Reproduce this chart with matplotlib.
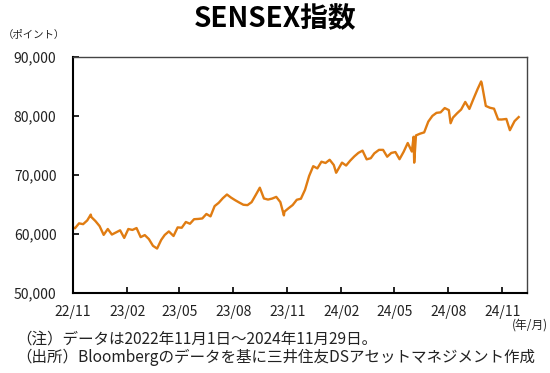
import numpy as np
import pandas as pd
import matplotlib
matplotlib.use("Agg")
import matplotlib.pyplot as plt
import matplotlib.dates as mdates
from matplotlib.ticker import FuncFormatter

plt.rcParams['font.family'] = ['Noto Sans CJK JP', 'DejaVu Sans']

# SENSEX closes (weekly, plus a few notable days)
dates = [
    "2022-11-01", "2022-11-04", "2022-11-11", "2022-11-18", "2022-11-25", "2022-12-01",
    "2022-12-02", "2022-12-09", "2022-12-16", "2022-12-23", "2022-12-30",
    "2023-01-06", "2023-01-13", "2023-01-20", "2023-01-27", "2023-02-03", "2023-02-10",
    "2023-02-17", "2023-02-24", "2023-03-03", "2023-03-10", "2023-03-17", "2023-03-24",
    "2023-03-31", "2023-04-06", "2023-04-13", "2023-04-21", "2023-04-28", "2023-05-05",
    "2023-05-12", "2023-05-19", "2023-05-26", "2023-06-02", "2023-06-09", "2023-06-16",
    "2023-06-23", "2023-06-30", "2023-07-07", "2023-07-14", "2023-07-21", "2023-07-28",
    "2023-08-04", "2023-08-11", "2023-08-18", "2023-08-25", "2023-09-01", "2023-09-08",
    "2023-09-15", "2023-09-22", "2023-09-29", "2023-10-06", "2023-10-13", "2023-10-20",
    "2023-10-26", "2023-10-27", "2023-11-03", "2023-11-10", "2023-11-17", "2023-11-24",
    "2023-12-01", "2023-12-08", "2023-12-15", "2023-12-22", "2023-12-29",
    "2024-01-05", "2024-01-12", "2024-01-19", "2024-01-23", "2024-01-25", "2024-02-02",
    "2024-02-09", "2024-02-16", "2024-02-23", "2024-03-01", "2024-03-08", "2024-03-15",
    "2024-03-22", "2024-03-28", "2024-04-05", "2024-04-12", "2024-04-19", "2024-04-26",
    "2024-05-03", "2024-05-10", "2024-05-17", "2024-05-24", "2024-05-31", "2024-06-03",
    "2024-06-04", "2024-06-07", "2024-06-14", "2024-06-21", "2024-06-28", "2024-07-05",
    "2024-07-12", "2024-07-19", "2024-07-26", "2024-08-02", "2024-08-05", "2024-08-09",
    "2024-08-16", "2024-08-23", "2024-08-30", "2024-09-06", "2024-09-13", "2024-09-20",
    "2024-09-26", "2024-09-27", "2024-10-04", "2024-10-11", "2024-10-18", "2024-10-25",
    "2024-10-31", "2024-11-08", "2024-11-14", "2024-11-22", "2024-11-29",
]
sensex = [
    61121, 60950, 61795, 61663, 62294, 63284,
    62869, 62182, 61338, 59845, 60841,
    59900, 60261, 60621, 59331, 60842, 60683,
    61003, 59464, 59809, 59135, 57990, 57527,
    58991, 59833, 60431, 59655, 61112, 61055,
    62028, 61730, 62502, 62547, 62626, 63385,
    62979, 64719, 65280, 66061, 66684, 66160,
    65721, 65323, 64949, 64886, 65387, 66598,
    67839, 66009, 65828, 65996, 66283, 65398,
    63148, 63783, 64364, 64904, 65795, 65970,
    67481, 69826, 71484, 71107, 72240,
    72026, 72568, 71683, 70370, 70700, 72086,
    71595, 72427, 73142, 73745, 74119, 72643,
    72832, 73651, 74248, 74245, 73088, 73730,
    73878, 72664, 73917, 75410, 73961, 76469,
    72079, 76693, 76993, 77210, 79032, 80004,
    80519, 80605, 81333, 80982, 78759, 79706,
    80437, 81086, 82366, 81184, 82891, 84544,
    85836, 85572, 81688, 81381, 81225, 79402,
    79389, 79486, 77580, 79117, 79803,
]
tick_months = ["2022-11", "2023-02", "2023-05", "2023-08", "2023-11",
               "2024-02", "2024-05", "2024-08", "2024-11"]
y_ticks = [50000, 60000, 70000, 80000, 90000]

x = pd.to_datetime(dates)

fig = plt.figure(figsize=(5.5, 3.73), dpi=100)
ax = fig.add_axes([0.133, 0.2145, 0.825, 0.633])
ax.plot(x, sensex, color="#E07C12", lw=1.7, solid_joinstyle="round")

ax.set_xlim(pd.Timestamp("2022-11-01"), pd.Timestamp("2024-12-13"))
ax.set_ylim(50000, 90000)
ax.set_yticks(y_ticks)
ax.yaxis.set_major_formatter(FuncFormatter(lambda v, p: f"{int(v):,}"))
ax.set_xticks(pd.to_datetime([m + "-01" for m in tick_months]))
ax.xaxis.set_major_formatter(mdates.DateFormatter("%y/%m"))
ax.tick_params(direction="in", length=4, width=1.2, labelsize=10,
               colors="black", labelcolor="#222222")
ax.tick_params(axis="y", pad=12)
ax.tick_params(axis="x", pad=9)
for s in ("left", "bottom"):
    ax.spines[s].set_linewidth(1.5)
    ax.spines[s].set_color("black")
for s in ("top", "right"):
    ax.spines[s].set_linewidth(1.0)
    ax.spines[s].set_color("#444444")

fig.text(0.5, 0.948, "SENSEX指数", ha="center", va="center",
         fontsize=20, fontweight="bold")
fig.text(0.005, 0.905, "（ポイント）", ha="left", va="center", fontsize=7.5,
         color="#222222")
fig.text(0.997, 0.128, "(年/月)", ha="right", va="center", fontsize=8.5,
         color="#222222")
fig.text(0.03, 0.092, "（注）データは2022年11月1日～2024年11月29日。",
         ha="left", va="center", fontsize=11.2, color="#222222")
fig.text(0.03, 0.042, "（出所）Bloombergのデータを基に三井住友DSアセットマネジメント作成",
         ha="left", va="center", fontsize=11.2, color="#222222")

fig.savefig("out.png", dpi=100)
